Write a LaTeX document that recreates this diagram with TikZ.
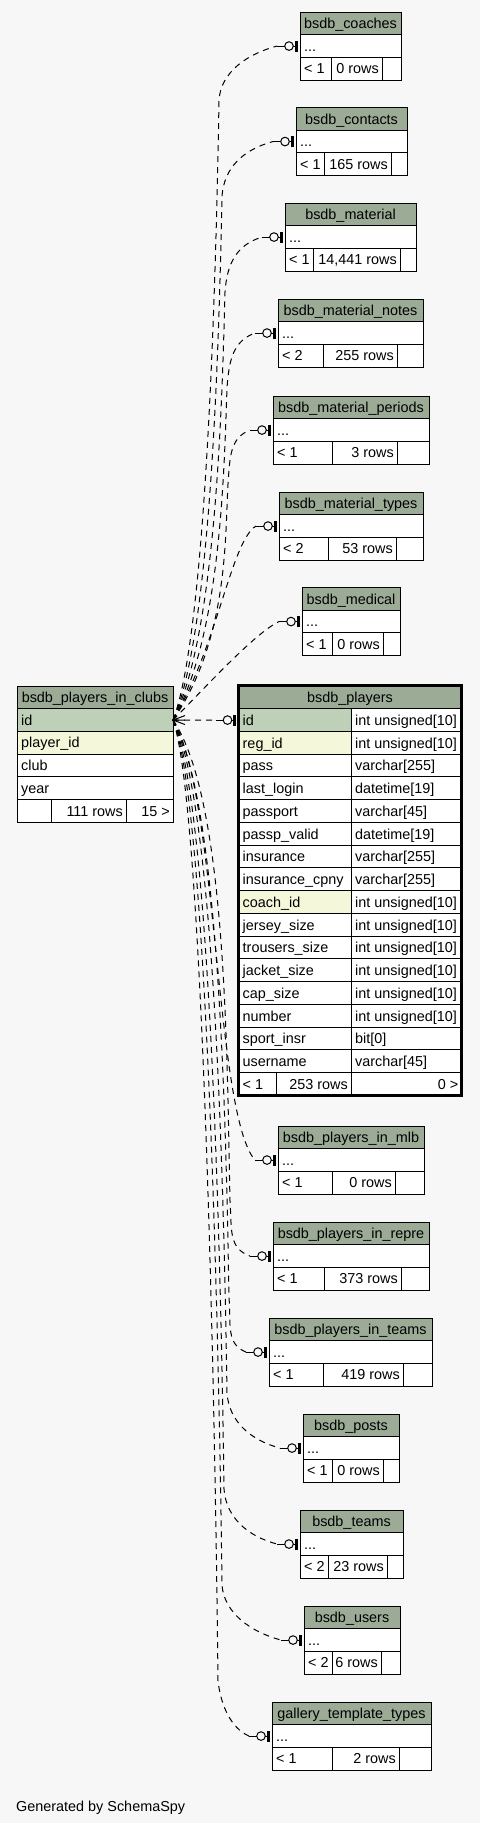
\documentclass[tikz,border=0pt]{standalone}
\usepackage{fontspec}
\setmainfont{Liberation Sans}
\definecolor{bg}{HTML}{F7F7F7}
\definecolor{hdr}{HTML}{9BAB96}
\definecolor{pk}{HTML}{BED1B8}
\definecolor{fk}{HTML}{F4F7DA}
\tikzset{
 cellbox/.style={draw=black, line width=1pt, inner sep=0pt, outer sep=0pt, anchor=north west},
 txt/.style={inner sep=0pt, font=\fontsize{14.4}{17}\selectfont},
 rel/.style={draw=black, line width=1pt, dash pattern=on 6pt off 5pt},
}
% name x1 y1 x2 y2 fill
\newcommand\cellat[6]{\node[cellbox, fill=#6, minimum width={#4-#2}, minimum height={#5-#3}] (#1) at (#2,#3) {};}
\newcommand\tleft[2]{\node[txt, anchor=base west] at ([xshift=4pt,yshift=-5.2pt]#1.west) {#2};}
\newcommand\tright[2]{\node[txt, anchor=base east] at ([xshift=-3pt,yshift=-5.2pt]#1.east) {#2};}
\newcommand\tmid[2]{\node[txt, anchor=base] at ([yshift=-5.2pt]#1.center) {#2};}
% id title x1 x2 ytop c1 c2 rows n
\newcommand\smalltab[9]{%
 \pgfmathsetmacro\tya{#5+22.7}\pgfmathsetmacro\tyb{#5+45.4}\pgfmathsetmacro\tyc{#5+68.1}%
 \cellat{#1}{#3}{#5}{#4}{\tya}{hdr}\tmid{#1}{#2}%
 \cellat{#1-dots}{#3}{\tya}{#4}{\tyb}{white}\tleft{#1-dots}{...}%
 \cellat{#1-fa}{#3}{\tyb}{#6}{\tyc}{white}\tleft{#1-fa}{< #9}%
 \cellat{#1-fb}{#6}{\tyb}{#7}{\tyc}{white}\tright{#1-fb}{#8}%
 \cellat{#1-fc}{#7}{\tyb}{#4}{\tyc}{white}%
}
% index id text type fill
\newcommand\prow[5]{%
 \pgfmathsetmacro\tya{708.7+22.75*(#1-1)}\pgfmathsetmacro\tyb{708.7+22.75*#1}%
 \cellat{#2}{238.5}{\tya}{351}{\tyb}{#5}\tleft{#2}{#3}%
 \cellat{#2t}{351}{\tya}{461.5}{\tyb}{white}\tleft{#2t}{#4}%
}
\newcommand\mk[1]{%
 \draw[line width=1pt] ([xshift=-23pt]#1.west) -- ([xshift=-5pt]#1.west);
 \draw[line width=1pt, fill=bg] ([xshift=-11pt]#1.west) circle (4.3pt);
 \fill ([xshift=-5.5pt,yshift=-5.5pt]#1.west) rectangle ([xshift=-2.5pt,yshift=5.5pt]#1.west);
}
\begin{document}
\begin{tikzpicture}[x=1pt, y=-1pt]
\fill[bg] (0,0) rectangle (480,1823);
\useasboundingbox (0,0) rectangle (480,1823);

% small tables
\smalltab{coa}{bsdb\_coaches}{300}{401}{12}{331}{382}{0 rows}{1}
\smalltab{con}{bsdb\_contacts}{296}{407}{107.5}{324}{391}{165 rows}{1}
\smalltab{mat}{bsdb\_material}{285}{416}{203}{313}{400}{14,441 rows}{1}
\smalltab{man}{bsdb\_material\_notes}{278}{423}{299}{323}{397}{255 rows}{2}
\smalltab{map}{bsdb\_material\_periods}{273}{429}{396}{332}{397}{3 rows}{1}
\smalltab{mat2}{bsdb\_material\_types}{279}{423}{492}{328}{396}{53 rows}{2}
\smalltab{med}{bsdb\_medical}{302}{400}{587.5}{332}{383}{0 rows}{1}
\smalltab{mlb}{bsdb\_players\_in\_mlb}{278}{424}{1126}{332}{395}{0 rows}{1}
\smalltab{rep}{bsdb\_players\_in\_repre}{273}{429}{1222}{324}{401}{373 rows}{1}
\smalltab{pit}{bsdb\_players\_in\_teams}{269}{432}{1318}{323}{403}{419 rows}{1}
\smalltab{pos}{bsdb\_posts}{303}{399}{1414}{332}{383}{0 rows}{1}
\smalltab{tea}{bsdb\_teams}{300}{403}{1510}{328}{387}{23 rows}{2}
\smalltab{use}{bsdb\_users}{304}{400}{1606}{332}{381}{6 rows}{2}
\smalltab{gal}{gallery\_template\_types}{272}{431}{1702}{332}{399}{2 rows}{1}

% bsdb_players_in_clubs
\cellat{clh}{17}{686}{173}{708.7}{hdr}\tmid{clh}{bsdb\_players\_in\_clubs}
\cellat{clid}{17}{708.7}{173}{731.4}{pk}\tleft{clid}{id}
\cellat{clpid}{17}{731.4}{173}{754.1}{fk}\tleft{clpid}{player\_id}
\cellat{clclub}{17}{754.1}{173}{776.8}{white}\tleft{clclub}{club}
\cellat{clyear}{17}{776.8}{173}{799.5}{white}\tleft{clyear}{year}
\cellat{clfa}{17}{799.5}{51}{822.2}{white}
\cellat{clfb}{51}{799.5}{126}{822.2}{white}\tright{clfb}{111 rows}
\cellat{clfc}{126}{799.5}{173}{822.2}{white}\tright{clfc}{15 >}

% bsdb_players
\cellat{plh}{238.5}{685.5}{461.5}{708.7}{hdr}\tmid{plh}{bsdb\_players}
\prow{1}{pla}{id}{int unsigned[10]}{pk}
\prow{2}{plb}{reg\_id}{int unsigned[10]}{fk}
\prow{3}{plc}{pass}{varchar[255]}{white}
\prow{4}{pld}{last\_login}{datetime[19]}{white}
\prow{5}{ple}{passport}{varchar[45]}{white}
\prow{6}{plf}{passp\_valid}{datetime[19]}{white}
\prow{7}{plg}{insurance}{varchar[255]}{white}
\prow{8}{plh2}{insurance\_cpny}{varchar[255]}{white}
\prow{9}{pli}{coach\_id}{int unsigned[10]}{fk}
\prow{10}{plj}{jersey\_size}{int unsigned[10]}{white}
\prow{11}{plk}{trousers\_size}{int unsigned[10]}{white}
\prow{12}{pll}{jacket\_size}{int unsigned[10]}{white}
\prow{13}{plm}{cap\_size}{int unsigned[10]}{white}
\prow{14}{pln}{number}{int unsigned[10]}{white}
\prow{15}{plo}{sport\_insr}{bit[0]}{white}
\prow{16}{plp}{username}{varchar[45]}{white}
\cellat{plfa}{238.5}{1072.7}{276.5}{1095.5}{white}\tleft{plfa}{< 1}
\cellat{plfb}{276.5}{1072.7}{351}{1095.5}{white}\tright{plfb}{253 rows}
\cellat{plfc}{351}{1072.7}{461.5}{1095.5}{white}\tright{plfc}{0 >}
\draw[line width=3pt] (238.5,685.5) rectangle (461.5,1095.5);

% connectors (upper)
\draw[rel] (clid.east) .. controls +(33,-85) and +(-3,186) .. (219,100) .. controls +(2,-28) and +(-30,8) .. ([xshift=-23pt]coa-dots.west);
\draw[rel] (clid.east) .. controls +(38,-85) and +(-3,150) .. (222,196) .. controls +(2,-28) and +(-30,8) .. ([xshift=-23pt]con-dots.west);
\draw[rel] (clid.east) .. controls +(43,-85) and +(-3,115) .. (225,292) .. controls +(2,-28) and +(-26,8) .. ([xshift=-23pt]mat-dots.west);
\draw[rel] (clid.east) .. controls +(48,-85) and +(-3,85) .. (227,388) .. controls +(2,-28) and +(-22,8) .. ([xshift=-23pt]man-dots.west);
\draw[rel] (clid.east) .. controls +(55,-80) and +(-3,55) .. (228,484) .. controls +(2,-28) and +(-20,8) .. ([xshift=-23pt]map-dots.west);
\draw[rel] (clid.east) .. controls +(45,-75) and +(-25,15) .. ([xshift=-23pt]mat2-dots.west);
\draw[rel] (clid.east) .. controls +(30,-30) and +(-25,12) .. ([xshift=-23pt]med-dots.west);
\draw[rel] (clid.east) -- ([xshift=-23pt]pla.west);
% connectors (lower)
\draw[rel] (clid.east) .. controls +(45,75) and +(-40,-45) .. ([xshift=-23pt]mlb-dots.west);
\draw[rel] (clid.east) .. controls +(55,80) and +(-3,-130) .. (230,1201) .. controls +(2,28) and +(-22,-8) .. ([xshift=-23pt]rep-dots.west);
\draw[rel] (clid.east) .. controls +(48,85) and +(-3,-160) .. (229,1297) .. controls +(2,28) and +(-20,-8) .. ([xshift=-23pt]pit-dots.west);
\draw[rel] (clid.east) .. controls +(43,85) and +(-3,-190) .. (227,1393) .. controls +(2,28) and +(-30,-8) .. ([xshift=-23pt]pos-dots.west);
\draw[rel] (clid.east) .. controls +(38,85) and +(-3,-220) .. (224,1489) .. controls +(2,28) and +(-30,-8) .. ([xshift=-23pt]tea-dots.west);
\draw[rel] (clid.east) .. controls +(34,85) and +(-3,-250) .. (222,1585) .. controls +(2,28) and +(-30,-8) .. ([xshift=-23pt]use-dots.west);
\draw[rel] (clid.east) .. controls +(30,85) and +(-3,-288) .. (218,1681) .. controls +(3,25) and +(-18,-8) .. ([xshift=-23pt]gal-dots.west);

% ends
\draw[line width=1pt] (clid.east) -- ++(12,-4.5) (clid.east) -- ++(12,4.5) (clid.east) -- ++(12,0);
\mk{coa-dots}\mk{con-dots}\mk{mat-dots}\mk{man-dots}\mk{map-dots}\mk{mat2-dots}\mk{med-dots}
\mk{pla}
\mk{mlb-dots}\mk{rep-dots}\mk{pit-dots}\mk{pos-dots}\mk{tea-dots}\mk{use-dots}\mk{gal-dots}

\node[txt, anchor=base west] (gen) at (16,1811) {Generated by SchemaSpy};
\end{tikzpicture}
\end{document}
